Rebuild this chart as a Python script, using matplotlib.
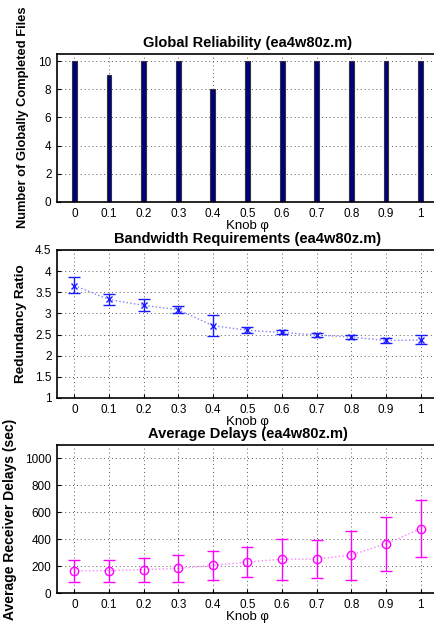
import numpy as np
import matplotlib
matplotlib.use('Agg')
import matplotlib.pyplot as plt

plt.rcParams['font.family'] = ['Liberation Sans', 'DejaVu Sans']

# knob values
knob = [0, 0.1, 0.2, 0.3, 0.4, 0.5, 0.6, 0.7, 0.8, 0.9, 1]
tick_labels = ['0', '0.1', '0.2', '0.3', '0.4', '0.5', '0.6', '0.7', '0.8', '0.9', '1']

# global reliability
completed = [10, 9, 10, 10, 8, 10, 10, 10, 10, 10, 10]

# bandwidth (redundancy ratio) mean and error bar ends
ratio_mean = [3.66, 3.33, 3.19, 3.09, 2.71, 2.60, 2.55, 2.49, 2.44, 2.36, 2.37]
ratio_low = [3.49, 3.20, 3.06, 3.02, 2.46, 2.54, 2.51, 2.45, 2.39, 2.30, 2.27]
ratio_high = [3.85, 3.47, 3.33, 3.17, 2.97, 2.67, 2.60, 2.54, 2.50, 2.43, 2.48]

# average delays
delay_mean = [166, 166, 173, 183, 205, 230, 252, 252, 282, 366, 478]
delay_low = [84, 84, 84, 82, 99, 119, 99, 111, 99, 163, 265]
delay_high = [243, 248, 260, 285, 312, 342, 401, 396, 463, 567, 693]

W, H = 435, 629
fig = plt.figure(figsize=(W / 100, H / 100), dpi=100)

def px_axes(top, bottom, left=57, right=438):
    return fig.add_axes([left / W, 1 - bottom / H, (right - left) / W, (bottom - top) / H])

ax1 = px_axes(54, 202)
ax2 = px_axes(250, 398)
ax3 = px_axes(445, 593)

grid_kw = dict(color='0.35', linestyle=(0, (1, 3)), linewidth=0.7)

def style(ax, title, ylabel, ylab_x, ylab_y=0.5, ylab_size=9.7):
    ax.set_xlim(-0.05, 1.05)
    ax.set_xticks(knob)
    ax.set_xticklabels(tick_labels)
    ax.tick_params(direction='in', length=3, labelsize=8.5, pad=4)
    ax.grid(True, **grid_kw)
    ax.set_axisbelow(True)
    for s in ax.spines.values():
        s.set_linewidth(1.2)
    ax.set_title(title, fontsize=10.5, fontweight='bold', pad=5)
    ax.set_xlabel('Knob φ', fontsize=9.5, labelpad=0)
    ax.set_ylabel(ylabel, fontsize=ylab_size, fontweight='bold')
    ax.yaxis.set_label_coords(ylab_x, ylab_y)

# top: bars
ax1.bar(knob, completed, width=0.014, color='#000080', edgecolor='#333333', linewidth=0.8)
ax1.set_ylim(0, 10.5)
ax1.set_yticks([0, 2, 4, 6, 8, 10])
style(ax1, 'Global Reliability (ea4w80z.m)', 'Number of Globally Completed Files', -0.073, 0.57, 9.3)

# middle: redundancy ratio
rm = np.array(ratio_mean)
ax2.plot(knob, rm, linestyle=':', color='#8080ff', linewidth=1)
ax2.errorbar(knob, rm, yerr=[rm - np.array(ratio_low), np.array(ratio_high) - rm],
             fmt='x', color='#1a1aff', markersize=4, capsize=4, elinewidth=1, capthick=1)
ax2.set_ylim(1, 4.5)
ax2.set_yticks([1, 1.5, 2, 2.5, 3, 3.5, 4, 4.5])
ax2.set_yticklabels(['1', '1.5', '2', '2.5', '3', '3.5', '4', '4.5'])
style(ax2, 'Bandwidth Requirements (ea4w80z.m)', 'Redundancy Ratio', -0.079)

# bottom: delays
dm = np.array(delay_mean)
ax3.plot(knob, dm, linestyle=':', color='#ff80ff', linewidth=1)
ax3.errorbar(knob, dm, yerr=[dm - np.array(delay_low), np.array(delay_high) - dm],
             fmt='o', mfc='none', color='#ff00ff', markersize=6, capsize=4, elinewidth=1, capthick=1)
ax3.set_ylim(0, 1100)
ax3.set_yticks([0, 200, 400, 600, 800, 1000])
style(ax3, 'Average Delays (ea4w80z.m)', 'Average Receiver Delays (sec)', -0.105, 0.5, 10)

fig.savefig('out.png', dpi=100)
